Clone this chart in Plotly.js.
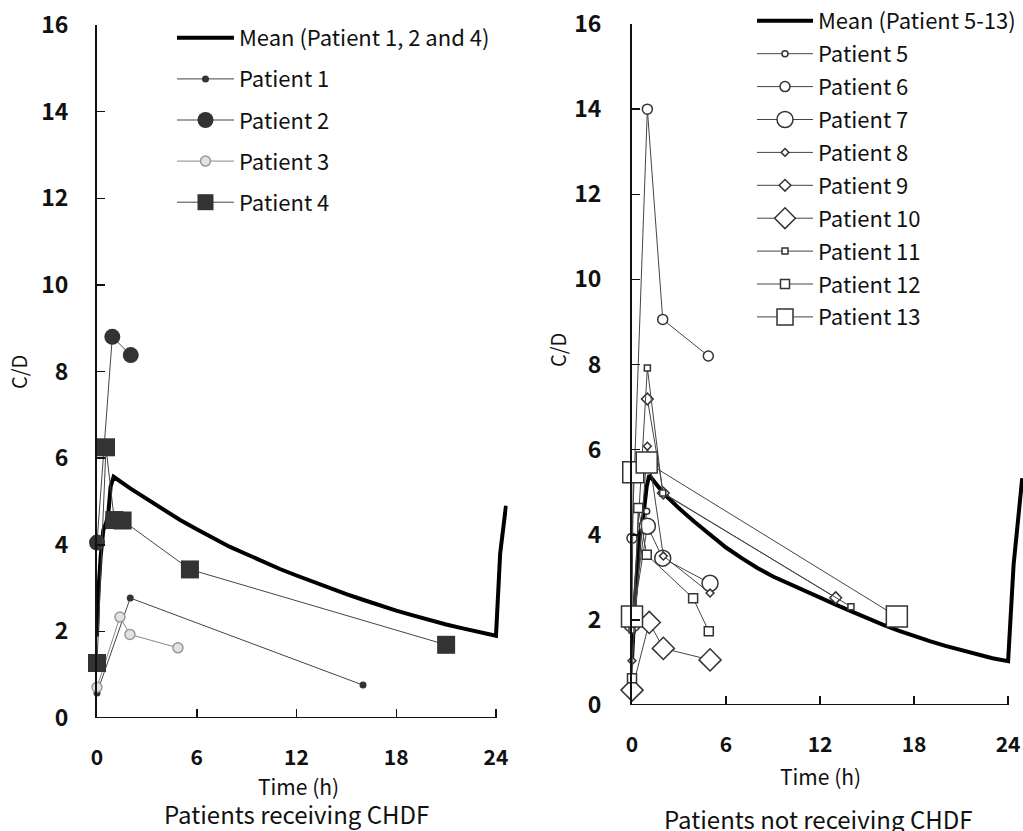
<!DOCTYPE html>
<html>
<head>
<meta charset="utf-8">
<script src="https://cdn.plot.ly/plotly-3.0.1.min.js"></script>
<style>html,body{margin:0;padding:0;background:#fff;}#chart{width:1023px;height:831px;}</style>
</head>
<body>
<div id="chart"></div>
<script>
// ---------- Left panel: patients receiving CHDF ----------
var meanL_t = [0, 0.08, 0.22, 0.38, 0.55, 0.68, 0.82, 1, 2, 3, 4, 5, 6, 7, 8, 9, 10, 11, 12, 13, 14, 15, 16, 17, 18, 19, 20, 21, 22, 23, 24, 24.25, 24.6];
var meanL_v = [1.88, 2.88, 3.73, 4.34, 4.5, 4.73, 5.34, 5.57, 5.3, 5.05, 4.8, 4.57, 4.36, 4.15, 3.95, 3.78, 3.6, 3.44, 3.29, 3.14, 3.0, 2.86, 2.73, 2.6, 2.48, 2.37, 2.26, 2.16, 2.07, 1.98, 1.9, 3.8, 4.9];
var p1_t = [0, 2, 16];          var p1_v = [0.58, 2.77, 0.76];
var p2_t = [0, 0.92, 2.03];     var p2_v = [4.05, 8.8, 8.38];
var p3_t = [0, 1.38, 1.98, 4.87]; var p3_v = [0.71, 2.33, 1.93, 1.62];
var p4_t = [0, 0.54, 1.04, 1.54, 5.59, 21.0]; var p4_v = [1.27, 6.25, 4.57, 4.56, 3.43, 1.69];

// ---------- Right panel: patients not receiving CHDF ----------
var meanR_t = [0, 0.19, 0.51, 0.72, 0.94, 1.1, 2, 3, 4, 5, 6, 7, 8, 9, 10, 11, 12, 13, 14, 15, 16, 17, 18, 19, 20, 21, 22, 23, 24, 24.35, 24.9];
var meanR_v = [1.06, 2.47, 4.04, 4.43, 5.14, 5.4, 4.98, 4.62, 4.3, 4.0, 3.7, 3.45, 3.22, 3.02, 2.85, 2.68, 2.52, 2.36, 2.2, 2.04, 1.89, 1.75, 1.62, 1.5, 1.39, 1.29, 1.19, 1.1, 1.03, 3.3, 5.33];
var p5_t = [0, 0.94];             var p5_v = [1.9, 4.55];
var p6_t = [0, 0.98, 1.96, 4.87]; var p6_v = [3.92, 14.0, 9.06, 8.2];
var p7_t = [0, 0.98, 1.96, 4.98]; var p7_v = [1.9, 4.2, 3.45, 2.86];
var p8_t = [0, 0.98, 2.0, 4.98];  var p8_v = [1.04, 6.08, 3.5, 2.63];
var p9_t = [0.98, 2.0, 13.0];     var p9_v = [7.19, 4.98, 2.52];
var p10_t = [0, 1.1, 2.0, 4.98];  var p10_v = [0.35, 1.94, 1.33, 1.06];
var p11_t = [0, 0.98, 1.96, 13.97]; var p11_v = [1.76, 7.92, 4.98, 2.31];
var p12_t = [0, 0.4, 0.94, 3.9, 4.9]; var p12_v = [0.63, 4.63, 3.53, 2.51, 1.73];
var p13_t = [0, 0.08, 0.94, 16.9]; var p13_v = [2.08, 5.47, 5.7, 2.08];

var xTicks = [0, 6, 12, 18, 24];
var xTickText = ['0', '6', '12', '18', '24'];
var yTicks = [0, 2, 4, 6, 8, 10, 12, 14, 16];

var labels = {
  meanL: 'Mean (Patient 1, 2 and 4)',
  meanR: 'Mean (Patient 5-13)',
  xTitle: 'Time (h)',
  yTitle: 'C/D',
  leftSub: 'Patients receiving CHDF',
  rightSub: 'Patients not receiving CHDF'
};

var FONT = '"Noto Sans CJK JP", "Noto Sans", sans-serif';
var thin = {color: '#444', width: 1};

function darkTrace(name, t, v, sym, size, fill, outline, lineColor) {
  return {
    type: 'scatter', mode: 'lines+markers', name: name, x: t, y: v,
    xaxis: 'x', yaxis: 'y', legend: 'legend', legendgroup: name,
    line: {color: lineColor || '#444', width: 1},
    marker: {symbol: sym, size: size, color: fill, line: {color: outline, width: outline === fill ? 0 : 1.5}},
    cliponaxis: false
  };
}
function openTrace(name, t, v, sym, size) {
  return {
    type: 'scatter', mode: 'lines+markers', name: name, x: t, y: v,
    xaxis: 'x2', yaxis: 'y2', legend: 'legend2', legendgroup: name,
    line: thin,
    marker: {symbol: sym, size: size, color: '#fff', line: {color: '#333', width: 1.5}},
    cliponaxis: false
  };
}

var data = [
  {type: 'scatter', mode: 'lines', name: labels.meanL, x: meanL_t, y: meanL_v, xaxis: 'x', yaxis: 'y',
   legend: 'legend', legendgroup: 'mL', line: {color: '#000', width: 4}},
  darkTrace('Patient 1', p1_t, p1_v, 'circle', 7, '#333', '#333'),
  darkTrace('Patient 2', p2_t, p2_v, 'circle', 16, '#333', '#333'),
  darkTrace('Patient 3', p3_t, p3_v, 'circle', 10, '#e2e2e2', '#999', '#888'),
  darkTrace('Patient 4', p4_t, p4_v, 'square', 18, '#333', '#333'),

  {type: 'scatter', mode: 'lines', name: labels.meanR, x: meanR_t, y: meanR_v, xaxis: 'x2', yaxis: 'y2',
   legend: 'legend2', legendgroup: 'mR', line: {color: '#000', width: 4}},
  openTrace('Patient 5', p5_t, p5_v, 'circle', 6),
  openTrace('Patient 6', p6_t, p6_v, 'circle', 10),
  openTrace('Patient 7', p7_t, p7_v, 'circle', 16),
  openTrace('Patient 8', p8_t, p8_v, 'diamond', 6),
  openTrace('Patient 9', p9_t, p9_v, 'diamond', 9),
  openTrace('Patient 10', p10_t, p10_v, 'diamond', 17),
  openTrace('Patient 11', p11_t, p11_v, 'square', 6),
  openTrace('Patient 12', p12_t, p12_v, 'square', 9),
  openTrace('Patient 13', p13_t, p13_v, 'square', 21)
];

var W = 1023, H = 831;
function px(x) { return x / W; }
function py(y) { return 1 - y / H; }

function xAxis(domain, range) {
  return {
    domain: domain, range: range, showline: false, zeroline: false, showgrid: false,
    ticks: 'inside', ticklen: 9, tickwidth: 1.5, tickcolor: '#111',
    tickvals: xTicks, ticktext: xTickText, ticklabelstandoff: 25,
    tickfont: {family: FONT, size: 21, color: '#111', weight: 'bold'}
  };
}
function yAxis(domain, anchor, standoff) {
  return {
    domain: domain, range: [0, 16], anchor: anchor, showline: true, linewidth: 2, linecolor: '#111',
    zeroline: false, showgrid: false, ticks: 'inside', ticklen: 8, tickwidth: 1.5, tickcolor: '#111',
    tickvals: yTicks, ticklabelstandoff: standoff,
    tickfont: {family: FONT, size: 23, color: '#111', weight: 'bold'}
  };
}

var layout = {
  width: W, height: H,
  margin: {l: 0, r: 0, t: 0, b: 0},
  paper_bgcolor: '#fff', plot_bgcolor: 'rgba(0,0,0,0)',
  showlegend: true,
  xaxis: Object.assign(xAxis([px(97), px(97 + 24.7 * 16.625)], [0, 24.7]), {anchor: 'y'}),
  yaxis: yAxis([py(718), py(25)], 'x', 22),
  xaxis2: Object.assign(xAxis([px(632), 1], [0, 24.95]), {anchor: 'y2'}),
  yaxis2: yAxis([py(705), py(24)], 'x2', 24),
  shapes: [
    {type: 'line', xref: 'x', yref: 'y', x0: 0, x1: 24, y0: 0, y1: 0, line: {color: '#111', width: 2}},
    {type: 'line', xref: 'x2', yref: 'y2', x0: 0, x1: 24, y0: 0, y1: 0, line: {color: '#111', width: 2}}
  ],
  legend: {
    x: px(172), y: py(17), xanchor: 'left', yanchor: 'top',
    bgcolor: 'rgba(0,0,0,0)', borderwidth: 0, traceorder: 'grouped', tracegroupgap: 9.5,
    font: {family: FONT, size: 22, color: '#111'}, itemwidth: 57
  },
  legend2: {
    x: px(752), y: 1, xanchor: 'left', yanchor: 'top',
    bgcolor: 'rgba(0,0,0,0)', borderwidth: 0, traceorder: 'grouped', tracegroupgap: 1.3,
    font: {family: FONT, size: 22, color: '#111'}, itemwidth: 56
  },
  annotations: [
    {xref: 'paper', yref: 'paper', x: px(298), y: py(786), xanchor: 'center', yanchor: 'middle',
     text: labels.xTitle, showarrow: false, font: {family: FONT, size: 21, color: '#111'}},
    {xref: 'paper', yref: 'paper', x: px(820), y: py(776), xanchor: 'center', yanchor: 'middle',
     text: labels.xTitle, showarrow: false, font: {family: FONT, size: 21, color: '#111'}},
    {xref: 'paper', yref: 'paper', x: px(19), y: py(372), xanchor: 'center', yanchor: 'middle',
     text: labels.yTitle, showarrow: false, textangle: -90, font: {family: FONT, size: 20, color: '#111'}},
    {xref: 'paper', yref: 'paper', x: px(557), y: py(350), xanchor: 'center', yanchor: 'middle',
     text: labels.yTitle, showarrow: false, textangle: -90, font: {family: FONT, size: 20, color: '#111'}},
    {xref: 'paper', yref: 'paper', x: px(296), y: py(813), xanchor: 'center', yanchor: 'middle',
     text: labels.leftSub, showarrow: false, font: {family: FONT, size: 24, color: '#111'}},
    {xref: 'paper', yref: 'paper', x: px(818), y: py(818), xanchor: 'center', yanchor: 'middle',
     text: labels.rightSub, showarrow: false, font: {family: FONT, size: 24, color: '#111'}}
  ]
};

Plotly.newPlot('chart', data, layout, {displayModeBar: false, staticPlot: true});
</script>
</body>
</html>
